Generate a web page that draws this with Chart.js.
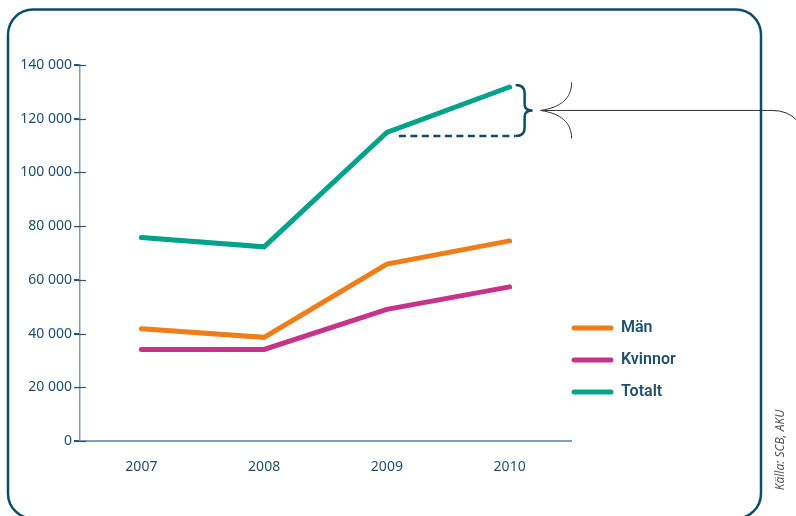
<!DOCTYPE html>
<html>
<head>
<meta charset="utf-8">
<script src="https://cdn.jsdelivr.net/npm/chart.js@4/dist/chart.umd.min.js"></script>
<style>
html,body{margin:0;padding:0;background:#fff;}
#wrap{width:796px;height:516px;position:relative;}
</style>
</head>
<body>
<div id="wrap"><canvas id="c" width="796" height="516"></canvas></div>
<script>
const years = ['2007', '2008', '2009', '2010'];
const man = [41800, 38600, 65900, 74500];
const kvinnor = [34100, 34100, 49000, 57400];
const totalt = [75800, 72300, 114900, 131800];
const yTickValues = [0, 20000, 40000, 60000, 80000, 100000, 120000, 140000];
const yTickLabels = ['0', '20 000', '40 000', '60 000', '80 000', '100 000', '120 000', '140 000'];
const seriesNames = ['Män', 'Kvinnor', 'Totalt'];
const sourceText = 'Källa: SCB, AKU';

const TEXT = '#1d4f6f';
const NAVY = '#0f4c6c';
const AXIS = '#7d9fb3';
const COLORS = ['#ef7d1a', '#c8338a', '#00a38a'];

const decor = {
  id: 'decor',
  afterDraw(chart) {
    const ctx = chart.ctx;
    const xs = chart.scales.x, ys = chart.scales.y;
    ctx.save();
    // frame
    ctx.strokeStyle = NAVY;
    ctx.lineWidth = 2.5;
    ctx.beginPath();
    ctx.roundRect(8, 9.5, 753, 509, 25);
    ctx.stroke();

    // inward tick parts
    ctx.strokeStyle = '#2a5874';
    ctx.lineWidth = 1.2;
    ys.ticks.forEach(t => {
      const py = Math.round(ys.getPixelForValue(t.value)) + 0.5;
      ctx.beginPath();
      ctx.moveTo(ys.right - 6, py);
      ctx.lineTo(ys.right + 6, py);
      ctx.stroke();
    });

    // dashed line from 2009 total to 2010 and brace
    const ti = totalt.length - 1;
    const x09 = xs.getPixelForValue(ti - 1);
    const x10 = xs.getPixelForValue(ti);
    const yLow = ys.getPixelForValue(totalt[ti - 1]) + 3.5;
    const yHigh = ys.getPixelForValue(totalt[ti]) - 2;
    const bx = x10 + 6;
    ctx.strokeStyle = NAVY;
    ctx.lineWidth = 2.5;
    ctx.setLineDash([7, 4.5]);
    ctx.beginPath();
    ctx.moveTo(x09 + 12, yLow);
    ctx.lineTo(bx, yLow);
    ctx.stroke();
    ctx.setLineDash([]);
    const mid = (yLow + yHigh) / 2;
    ctx.beginPath();
    ctx.moveTo(bx, yHigh);
    ctx.quadraticCurveTo(bx + 9, yHigh, bx + 9, yHigh + 8);
    ctx.lineTo(bx + 9, mid - 6);
    ctx.quadraticCurveTo(bx + 9, mid, bx + 17, mid);
    ctx.quadraticCurveTo(bx + 9, mid, bx + 9, mid + 6);
    ctx.lineTo(bx + 9, yLow - 8);
    ctx.quadraticCurveTo(bx + 9, yLow, bx, yLow);
    ctx.stroke();

    // arrow line
    const ax = bx + 25;
    ctx.strokeStyle = '#333';
    ctx.lineWidth = 1;
    ctx.beginPath();
    ctx.moveTo(ax, mid);
    ctx.lineTo(772, mid);
    ctx.quadraticCurveTo(788, mid, 797, mid + 10);
    ctx.stroke();
    ctx.beginPath();
    ctx.moveTo(ax, mid);
    ctx.bezierCurveTo(ax + 20, mid - 3, ax + 31, mid - 12, ax + 31, mid - 28);
    ctx.moveTo(ax, mid);
    ctx.bezierCurveTo(ax + 20, mid + 3, ax + 31, mid + 12, ax + 31, mid + 28);
    ctx.stroke();

    // legend
    const ds = chart.data.datasets;
    ctx.lineCap = 'round';
    ctx.font = '600 16px "Liberation Sans Narrow", "Roboto", sans-serif';
    ctx.textBaseline = 'middle';
    ctx.textAlign = 'left';
    ds.forEach((d, i) => {
      const ly = 328 + i * 32;
      ctx.strokeStyle = d.borderColor;
      ctx.lineWidth = 5;
      ctx.beginPath();
      ctx.moveTo(574, ly);
      ctx.lineTo(611, ly);
      ctx.stroke();
      ctx.fillStyle = TEXT;
      ctx.fillText(d.label, 621, ly);
    });

    // source
    ctx.translate(781, 450);
    ctx.rotate(-Math.PI / 2);
    ctx.fillStyle = '#555';
    ctx.font = 'italic 12px "Noto Sans", sans-serif';
    ctx.textAlign = 'center';
    ctx.fillText(sourceText, 0, 0);
    ctx.restore();
  }
};

const seriesData = [man, kvinnor, totalt];
new Chart(document.getElementById('c'), {
  type: 'line',
  data: {
    labels: years,
    datasets: seriesData.map((d, i) => ({
      label: seriesNames[i],
      data: d,
      borderColor: COLORS[i],
      backgroundColor: COLORS[i],
      borderWidth: 5,
      pointRadius: 0,
      tension: 0,
      borderCapStyle: 'round',
      borderJoinStyle: 'miter',
      order: 2 - i
    }))
  },
  options: {
    responsive: false,
    animation: false,
    layout: { padding: { top: 65, right: 225, bottom: 0, left: 0 } },
    plugins: { legend: { display: false }, tooltip: { enabled: false } },
    scales: {
      x: {
        offset: true,
        grid: { display: false },
        border: { display: true, color: AXIS, width: 2 },
        ticks: { color: TEXT, font: { family: 'Noto Sans', size: 14 }, padding: 10 },
        afterFit(s) { s.height = 75; }
      },
      y: {
        min: 0,
        max: 140000,
        afterBuildTicks(s) { s.ticks = yTickValues.map(v => ({ value: v })); },
        grid: { drawOnChartArea: false, drawTicks: true, tickLength: 6, color: '#2a5874', lineWidth: 1.2 },
        border: { display: true, color: AXIS, width: 1.5 },
        ticks: {
          color: TEXT,
          font: { family: 'Noto Sans', size: 14 },
          padding: 2,
          callback(v) { const i = yTickValues.indexOf(v); return i >= 0 ? yTickLabels[i] : ''; }
        },
        afterFit(s) { s.width = 80; }
      }
    }
  },
  plugins: [decor]
});
</script>
</body>
</html>
